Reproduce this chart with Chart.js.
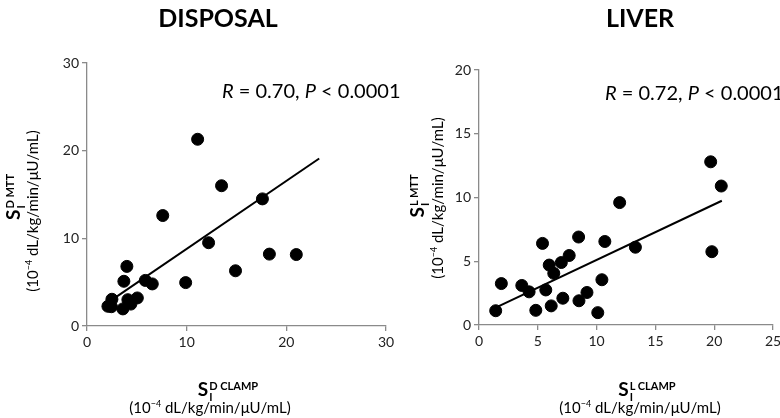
<!DOCTYPE html>
<html>
<head>
<meta charset="utf-8">
<script src="https://cdn.jsdelivr.net/npm/chart.js@4.4.1/dist/chart.umd.min.js"></script>
<style>
  html, body { margin: 0; padding: 0; background: #fff; overflow: hidden; }
  body { width: 780px; height: 418px; position: relative; font-family: Lato, "Open Sans", sans-serif; color: #000; }
  canvas { position: absolute; top: 0; }
  #c1 { left: 0; }
  #c2 { left: 390px; }
  .t { position: absolute; white-space: nowrap; }
  .titulo { font-weight: bold; font-size: 25px; top: 2px; transform: translateX(-50%); }
  .anot { font-size: 20px; }
  .c { transform: translate(-50%, -50%); }
  .rot { transform: translate(-50%, -50%) rotate(-90deg); }
  .big { font-weight: bold; font-size: 19px; line-height: 24px; }
  .ss { display: inline-flex; flex-direction: column; font-size: 11px; line-height: 11px; vertical-align: 6px; margin-left: 1px; }
  .unid { font-size: 15px; }
  .unid sup { font-size: 9px; }
</style>
</head>
<body>
<canvas id="c1" width="400" height="418"></canvas>
<canvas id="c2" width="400" height="418"></canvas>

<div class="t titulo" style="left:218px">DISPOSAL</div>
<div class="t titulo" style="left:640px">LIVER</div>

<div class="t anot" style="left:222px; top:78px"><i>R</i> = 0.70, <i>P</i> &lt; 0.0001</div>
<div class="t anot" style="left:605px; top:80px"><i>R</i> = 0.72, <i>P</i> &lt; 0.0001</div>

<div class="t rot big" style="left:13px; top:197px">S<span class="ss"><span>D MTT</span><span>I</span></span></div>
<div class="t rot unid" style="left:32px; top:211px">(10<sup>−4</sup> dL/kg/min/μU/mL)</div>
<div class="t rot big" style="left:417px; top:196px">S<span class="ss"><span>L MTT</span><span>I</span></span></div>
<div class="t rot unid" style="left:437px; top:198px">(10<sup>−4</sup> dL/kg/min/μU/mL)</div>

<div class="t c big" style="left:228px; top:389px">S<span class="ss"><span>D CLAMP</span><span>I</span></span></div>
<div class="t c unid" style="left:210px; top:407px">(10<sup>−4</sup> dL/kg/min/μU/mL)</div>
<div class="t c big" style="left:647px; top:389px">S<span class="ss"><span>L CLAMP</span><span>I</span></span></div>
<div class="t c unid" style="left:640px; top:407px">(10<sup>−4</sup> dL/kg/min/μU/mL)</div>

<script>
// DISPOSAL: SI clamp (x) vs SI MTT (y)
const disposalX = [11.1, 13.5, 17.6, 7.6, 12.2, 18.3, 21.0, 14.9, 9.9, 4.0, 3.7, 5.85, 6.55, 5.05, 4.1, 4.4, 3.6, 2.5, 2.1, 2.45];
const disposalY = [21.3, 16.0, 14.5, 12.6, 9.5, 8.2, 8.15, 6.3, 4.95, 6.8, 5.1, 5.2, 4.8, 3.2, 3.0, 2.5, 1.95, 3.05, 2.25, 2.2];
const disposalFit = [0.775, 1.05];      // pendiente, ordenada
const disposalFitX = [2.9, 23.3];

// LIVER
const liverX = [19.7, 20.6, 11.96, 19.8, 13.3, 8.47, 10.7, 5.4, 7.67, 7.0, 5.97, 6.36, 10.45, 1.9, 3.64, 4.26, 5.68, 9.18, 7.13, 8.5, 6.14, 4.83, 1.42, 10.1];
const liverY = [12.8, 10.9, 9.6, 5.75, 6.1, 6.9, 6.55, 6.4, 5.45, 4.9, 4.7, 4.05, 3.55, 3.25, 3.1, 2.6, 2.75, 2.55, 2.1, 1.9, 1.5, 1.15, 1.12, 0.97];
const liverFit = [0.436, 0.74];
const liverFitX = [1.6, 20.65];

const disposalTicks = [0, 10, 20, 30];
const liverTicksX = [0, 5, 10, 15, 20, 25];
const liverTicksY = [0, 5, 10, 15, 20];

function puntos(xs, ys) {
  return xs.map((x, i) => ({ x: x, y: ys[i] }));
}

function recta(fit, rango) {
  return rango.map(x => ({ x: x, y: fit[0] * x + fit[1] }));
}

function eje(ticks, tamano) {
  return {
    type: 'linear',
    min: ticks[0],
    max: ticks[ticks.length - 1],
    afterBuildTicks: s => { s.ticks = ticks.map(v => ({ value: v })); },
    afterFit: s => {
      if (s.isHorizontal()) s.height = tamano; else s.width = tamano;
    },
    border: { color: '#8a8a8a', width: 1.3 },
    grid: { drawOnChartArea: false, drawTicks: true, tickLength: 5, color: '#8a8a8a', lineWidth: 1.3 },
    ticks: { color: '#222', font: { family: 'Lato', size: 14 }, padding: 3 }
  };
}

function crearGrafica(canvasId, xs, ys, fit, rango, ticksX, ticksY, pad, anchoY, altoX) {
  const ctx = document.getElementById(canvasId).getContext('2d');
  new Chart(ctx, {
    type: 'scatter',
    data: {
      datasets: [{
        data: puntos(xs, ys),
        backgroundColor: '#000',
        borderColor: '#000',
        pointRadius: 6,
        pointHoverRadius: 6
      }, {
        type: 'line',
        data: recta(fit, rango),
        borderColor: '#000',
        borderWidth: 2,
        pointRadius: 0,
        fill: false
      }]
    },
    options: {
      responsive: false,
      animation: false,
      layout: { padding: pad },
      plugins: { legend: { display: false }, tooltip: { enabled: false } },
      scales: {
        x: eje(ticksX, altoX),
        y: eje(ticksY, anchoY)
      }
    }
  });
}

crearGrafica('c1', disposalX, disposalY, disposalFit, disposalFitX, disposalTicks, disposalTicks,
  { left: 0, top: 63, right: 14, bottom: 0 }, 87, 92);
crearGrafica('c2', liverX, liverY, liverFit, liverFitX, liverTicksX, liverTicksY,
  { left: 0, top: 70, right: 17, bottom: 0 }, 89, 93);
</script>
</body>
</html>
